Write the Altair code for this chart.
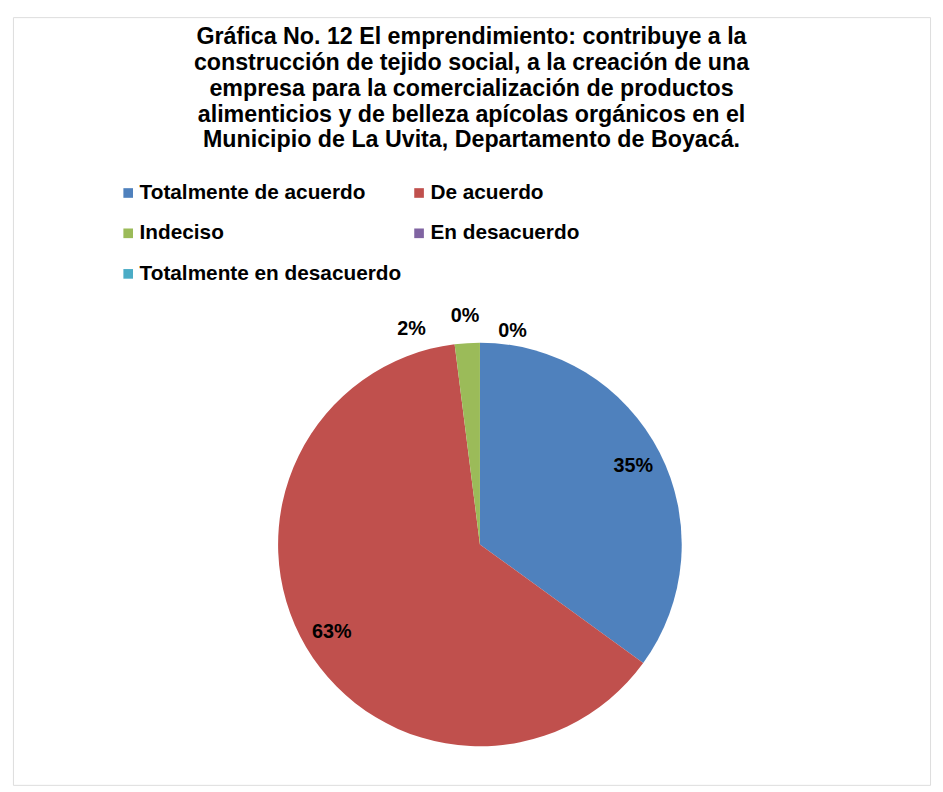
import math
import altair as alt
import pandas as pd

categories = ["Totalmente de acuerdo", "De acuerdo", "Indeciso", "En desacuerdo", "Totalmente en desacuerdo"]
percentages = [35, 63, 2, 0, 0]
labels = ["35%", "63%", "2%", "0%", "0%"]
colors = ["#4F81BD", "#C0504D", "#9BBB59", "#8064A2", "#4BACC6"]
title_lines = [
    "Gráfica No. 12 El emprendimiento: contribuye a la",
    "construcción de tejido social, a la creación de una",
    "empresa para la comercialización de productos",
    "alimenticios y de belleza apícolas orgánicos en el",
    "Municipio de La Uvita, Departamento de Boyacá.",
]

df = pd.DataFrame({
    "categoria": categories,
    "porcentaje": percentages,
    "etiqueta": labels,
    "orden": list(range(len(categories))),
})

# legend is filled column by column: reorder so it reads row by row like the original
legend_order = [0, 2, 4, 1, 3]
legend_domain = [categories[i] for i in legend_order]
legend_range = [colors[i] for i in legend_order]

FONT = "Liberation Sans"
CX, CY, R = 472, 533, 204

theta_scale = alt.Scale(domain=[0, 100], range=[0, 2 * math.pi])

base = (
    alt.Chart(df)
    .transform_window(fin="sum(porcentaje)", sort=[alt.SortField("orden")], frame=[None, 0])
    .transform_calculate(inicio="datum.fin - datum.porcentaje")
    .transform_calculate(medio="(datum.inicio + datum.fin) / 2")
)

arcs = base.mark_arc().encode(
    theta=alt.Theta("inicio:Q", scale=theta_scale),
    theta2="fin:Q",
    color=alt.Color(
        "categoria:N",
        scale=alt.Scale(domain=legend_domain, range=legend_range),
        legend=alt.Legend(
            title=None,
            orient="none",
            legendX=106,
            legendY=167,
            columns=2,
            columnPadding=7,
            rowPadding=19,
            symbolType="square",
            symbolSize=95,
            symbolStrokeWidth=0,
            labelFont=FONT,
            labelFontSize=21,
            labelFontWeight="bold",
            labelColor="black",
            labelOffset=1,
            labelLimit=400,
            padding=0,
        ),
    ),
    x=alt.value(CX),
    y=alt.value(CY),
    radius=alt.value(R),
)

txt_kw = dict(font=FONT, fontSize=20, fontWeight="bold", color="black")

big_labels = base.transform_filter("datum.porcentaje >= 10").mark_text(**txt_kw).encode(
    theta=alt.Theta("medio:Q", scale=theta_scale),
    radius=alt.value(174),
    text="etiqueta:N",
    x=alt.value(CX),
    y=alt.value(CY),
)

def small_label(idx, dx, dy):
    return base.transform_filter(f"datum.orden == {idx}").mark_text(dx=dx, dy=dy, **txt_kw).encode(
        theta=alt.Theta("medio:Q", scale=theta_scale),
        radius=alt.value(226),
        text="etiqueta:N",
        x=alt.value(CX),
        y=alt.value(CY),
    )

chart = (
    alt.layer(arcs, big_labels, small_label(2, -55, 8), small_label(3, -15, -5), small_label(4, 33, 10))
    .properties(
        width=927,
        height=776,
        title=alt.Title(
            text=title_lines,
            font=FONT,
            fontSize=23.5,
            fontWeight="bold",
            color="black",
            lineHeight=26,
            anchor="middle",
            offset=-136,
        ),
    )
    .configure_view(stroke="#8c8c8c", strokeWidth=2)
    .configure(background="white")
)

chart.save("out.html", embed_options={"renderer": "svg", "actions": False})
